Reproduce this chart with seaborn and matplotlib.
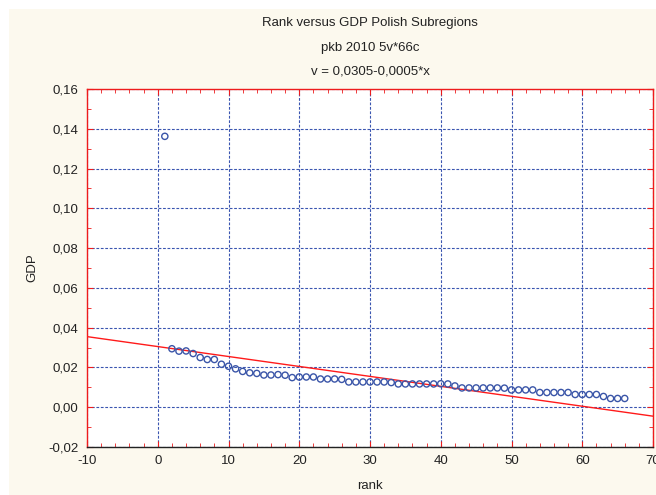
import numpy as np
import pandas as pd
import matplotlib
matplotlib.use("Agg")
import matplotlib.pyplot as plt
import seaborn as sns
from matplotlib.ticker import MultipleLocator, FuncFormatter
from matplotlib.patches import Rectangle

# ---- data ----
rank = list(range(1, 67))
gdp = [0.1362,
       0.0294, 0.0282, 0.0283, 0.0270, 0.0250, 0.0240, 0.0240, 0.0216, 0.0206,
       0.0193, 0.0180, 0.0173, 0.0170, 0.0162, 0.0162, 0.0164, 0.0161, 0.0149,
       0.0152, 0.0152, 0.0152, 0.0142, 0.0142, 0.0142, 0.0140, 0.0127, 0.0127,
       0.0127, 0.0127, 0.0127, 0.0127, 0.0124, 0.0117, 0.0117, 0.0117, 0.0117,
       0.0117, 0.0117, 0.0118, 0.0117, 0.0107, 0.0097, 0.0097, 0.0097, 0.0097,
       0.0097, 0.0097, 0.0096, 0.0087, 0.0087, 0.0087, 0.0087, 0.0074, 0.0074,
       0.0074, 0.0074, 0.0074, 0.0064, 0.0064, 0.0064, 0.0064, 0.0054, 0.0044,
       0.0044, 0.0044]
intercept = 0.0305
slope = -0.0005

title_lines = ["Rank versus GDP Polish Subregions", "pkb 2010 5v*66c",
               "v = 0,0305-0,0005*x"]

sns.set_style("white")
plt.rcParams['font.family'] = ['Liberation Sans', 'DejaVu Sans']

fig = plt.figure(figsize=(6.56, 4.95), dpi=100, facecolor="white")
fig.patches.append(Rectangle((9/656, 0), 1 - 9/656, 1 - 9/495, transform=fig.transFigure,
                             facecolor="#fcf9ee", edgecolor="none", zorder=-10))
ax = fig.add_axes([87/656, 1 - 447/495, (653 - 87)/656, (447 - 89)/495])
ax.set_facecolor("white")

df = pd.DataFrame({"rank": rank, "GDP": gdp})

xlim = (-10, 70)
xs = np.array(xlim, dtype=float)
line_df = pd.DataFrame({"rank": xs, "GDP": intercept + slope * xs})
sns.lineplot(data=line_df, x="rank", y="GDP", color="#ff1a1a", linewidth=1.0, ax=ax, zorder=3)
sns.scatterplot(data=df, x="rank", y="GDP", marker="o", facecolor="none",
                edgecolor="#3a55a8", linewidth=1.0, s=20, ax=ax, zorder=4)

ax.set_xlim(*xlim)
ax.set_ylim(-0.02, 0.16)
ax.xaxis.set_major_locator(MultipleLocator(10))
ax.xaxis.set_minor_locator(MultipleLocator(2))
ax.yaxis.set_major_locator(MultipleLocator(0.02))
ax.yaxis.set_minor_locator(MultipleLocator(0.01))
ax.yaxis.set_major_formatter(FuncFormatter(lambda v, p: f"{v:.2f}".replace(".", ",").replace("-0,00", "0,00")))
ax.xaxis.set_major_formatter(FuncFormatter(lambda v, p: f"{v:.0f}"))

ax.grid(True, which="major", color="#3a55b0", linestyle=(0, (2.5, 1.5)), linewidth=0.8)
ax.set_axisbelow(True)

for s in ["left", "top", "right"]:
    ax.spines[s].set_color("#ee1c1c")
    ax.spines[s].set_linewidth(1.0)
ax.spines["bottom"].set_color("#222222")
ax.spines["bottom"].set_linewidth(1.0)

ax.tick_params(which="both", direction="in", color="#ee1c1c", top=True, right=True,
               bottom=True, left=True, labelsize=9.5, labelcolor="#222222")
ax.tick_params(which="major", length=4)
ax.tick_params(which="minor", length=3)
ax.tick_params(axis="x", pad=6)
ax.tick_params(axis="y", pad=6)

ax.set_xlabel("rank", fontsize=9.5, color="#222222", labelpad=9)
ax.set_ylabel("GDP", fontsize=9.5, color="#222222", labelpad=7)

for i, t in enumerate(title_lines):
    fig.text((87 + 653) / 2 / 656, 1 - (23 + 24.5 * i) / 495, t, ha="center", va="center",
             fontsize=9.5, color="#222222")

fig.savefig("out.png", dpi=100, facecolor=fig.get_facecolor())
